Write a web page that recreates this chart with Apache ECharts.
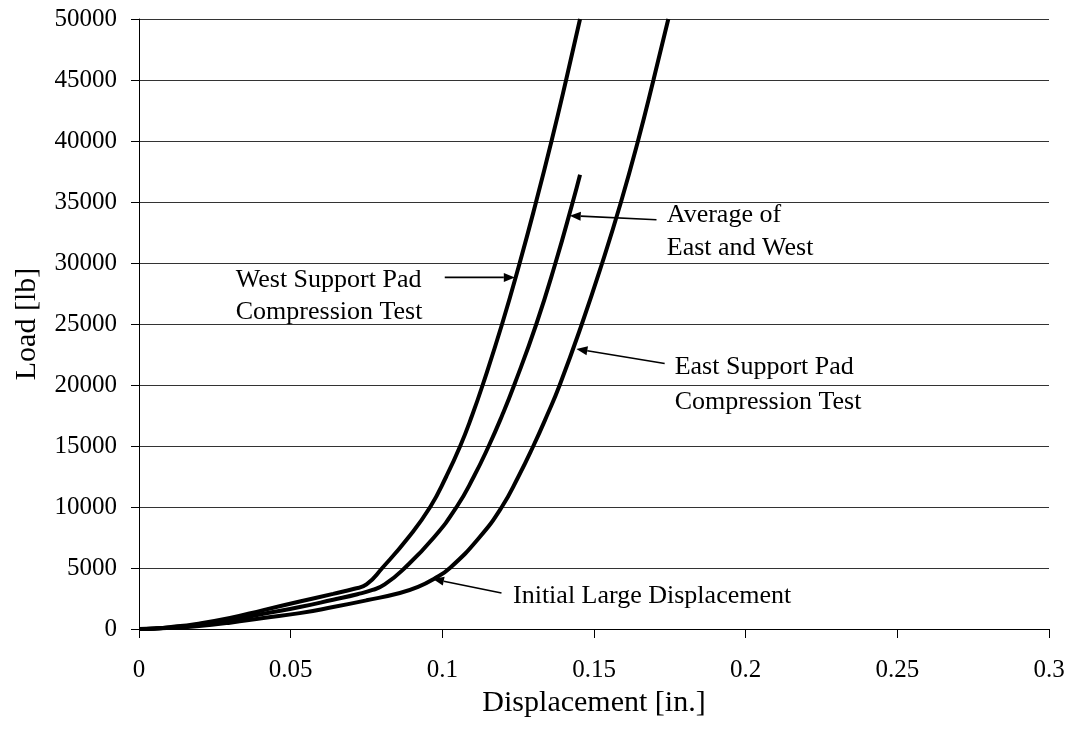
<!DOCTYPE html>
<html>
<head>
<meta charset="utf-8">
<script src="https://cdn.jsdelivr.net/npm/echarts@6/dist/echarts.min.js"></script>
<style>
  html, body { margin: 0; padding: 0; background: #fff; }
  #chart { width: 1070px; height: 736px; }
</style>
</head>
<body>
<div id="chart"></div>
<script>
// Load–displacement curves of the support pad compression tests: [displacement in., load lb]
const westPad = [
  [0, 0], [0.005, 50], [0.01, 150], [0.019, 420], [0.03, 900], [0.041, 1550],
  [0.053, 2250], [0.064, 2880], [0.071, 3300], [0.075, 3650], [0.0802, 5000],
  [0.0888, 7500], [0.096, 10000], [0.1013, 12500], [0.1059, 15000], [0.1098, 17500],
  [0.1133, 20000], [0.1197, 25000], [0.1255, 30000], [0.1309, 35000], [0.136, 40000],
  [0.1408, 45000], [0.1454, 50000]
];
const averagePad = [
  [0, 0], [0.005, 40], [0.01, 120], [0.019, 300], [0.03, 700], [0.041, 1250],
  [0.053, 1800], [0.064, 2400], [0.072, 2850], [0.077, 3200], [0.081, 3650],
  [0.0876, 5000], [0.0972, 7500], [0.1047, 10000], [0.1104, 12500], [0.1153, 15000],
  [0.1197, 17500], [0.1237, 20000], [0.131, 25000], [0.1373, 30000], [0.143, 35000],
  [0.1454, 37240]
];
const eastPad = [
  [0, 0], [0.005, 30], [0.01, 90], [0.019, 230], [0.03, 520], [0.041, 900],
  [0.053, 1300], [0.064, 1800], [0.075, 2350], [0.086, 2950], [0.092, 3450],
  [0.0972, 4100], [0.1025, 5000], [0.1122, 7500], [0.1196, 10000], [0.1251, 12500],
  [0.13, 15000], [0.1345, 17500], [0.1387, 20000], [0.146, 25000], [0.1527, 30000],
  [0.1589, 35000], [0.1645, 40000], [0.1696, 45000], [0.1745, 50000]
];

// Axis ranges and tick steps
const xRange = [0, 0.3];
const xStep = 0.05;
const yRange = [0, 50000];
const yStep = 5000;

// Callout texts
const westLabel = ['West Support Pad', 'Compression Test'];
const averageLabel = ['Average of', 'East and West'];
const eastLabel = ['East Support Pad', 'Compression Test'];
const initialLabel = ['Initial Large Displacement'];

const FONT = '"Liberation Serif", "Times New Roman", "DejaVu Serif", serif';

// Callouts in data space: text anchor, arrow tail and arrow tip
const callouts = [
  { lines: westLabel,    text: [0.0319, 28630], gap: 32, tail: [0.1008, 28820], tip: [0.1239, 28820] },
  { lines: averageLabel, text: [0.1740, 33960], gap: 33, tail: [0.1706, 33550], tip: [0.1420, 33880] },
  { lines: eastLabel,    text: [0.1766, 21500], gap: 35, tail: [0.1733, 21760], tip: [0.1442, 22960] },
  { lines: initialLabel, text: [0.1233, 2650],  gap: 0,  tail: [0.1195, 2950],  tip: [0.0969, 4100] }
];

const chart = echarts.init(document.getElementById('chart'), null, { renderer: 'canvas' });

const lineStyle = { color: '#000', width: 4 };
function curve(name, data) {
  return {
    name, type: 'line', data, smooth: 0.5,
    showSymbol: false, symbol: 'none',
    lineStyle, silent: true, animation: false, clip: true
  };
}

chart.setOption({
  backgroundColor: '#fff',
  animation: false,
  grid: { left: 139, right: 21, top: 19, bottom: 107, containLabel: false, outerBoundsMode: 'none' },
  xAxis: {
    type: 'value', min: xRange[0], max: xRange[1], interval: xStep,
    name: 'Displacement [in.]', nameLocation: 'middle', nameGap: 45,
    nameTextStyle: { fontFamily: FONT, fontSize: 30, color: '#000' },
    axisLine: { show: true, onZero: false, lineStyle: { color: '#000', width: 1 } },
    axisTick: { show: true, inside: false, length: 9, lineStyle: { color: '#000', width: 1 } },
    axisLabel: { fontFamily: FONT, fontSize: 25, color: '#000', margin: 29 },
    splitLine: { show: false }
  },
  yAxis: {
    type: 'value', min: yRange[0], max: yRange[1], interval: yStep,
    name: 'Load [lb]', nameLocation: 'middle', nameGap: 97, nameRotate: 90,
    nameTextStyle: { fontFamily: FONT, fontSize: 30, color: '#000' },
    axisLine: { show: true, onZero: false, lineStyle: { color: '#000', width: 1 } },
    axisTick: { show: true, inside: false, length: 8, lineStyle: { color: '#000', width: 1 } },
    axisLabel: { fontFamily: FONT, fontSize: 25, color: '#000', margin: 22, formatter: v => String(v) },
    splitLine: { show: true, lineStyle: { color: '#333', width: 1 } }
  },
  series: [
    curve('West Support Pad', westPad),
    curve('Average of East and West', averagePad),
    curve('East Support Pad', eastPad)
  ]
});

// Callout arrows and texts placed through the chart's own coordinate conversion
function buildCallouts() {
  const toPx = p => chart.convertToPixel({ gridIndex: 0 }, p);
  const elements = [];
  callouts.forEach(c => {
    const a = toPx(c.tail), b = toPx(c.tip);
    const ang = Math.atan2(b[1] - a[1], b[0] - a[0]);
    const headLen = 11, headHalf = 4.5;
    const base = [b[0] - headLen * Math.cos(ang), b[1] - headLen * Math.sin(ang)];
    const nx = -Math.sin(ang), ny = Math.cos(ang);
    elements.push({
      type: 'line', silent: true,
      shape: { x1: a[0], y1: a[1], x2: base[0], y2: base[1] },
      style: { stroke: '#000', lineWidth: 1.6 }
    });
    elements.push({
      type: 'polygon', silent: true,
      shape: { points: [b, [base[0] + nx * headHalf, base[1] + ny * headHalf], [base[0] - nx * headHalf, base[1] - ny * headHalf]] },
      style: { fill: '#000' }
    });
    const t = toPx(c.text);
    c.lines.forEach((s, i) => {
      elements.push({
        type: 'text', silent: true,
        style: {
          text: s, x: t[0], y: t[1] + i * c.gap,
          font: '26px ' + FONT, fill: '#000',
          textAlign: 'left', textVerticalAlign: 'middle'
        }
      });
    });
  });
  chart.setOption({ graphic: { elements } });
}
buildCallouts();
</script>
</body>
</html>
